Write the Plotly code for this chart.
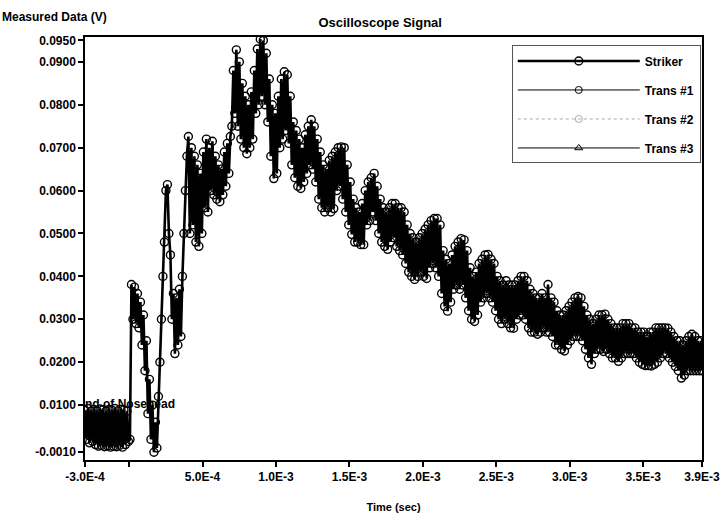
import plotly.graph_objects as go

# ---- data ----
SAMPLE_START_S = -3.0e-4      # first sample time (s)
SAMPLE_STEP_S = 1.02e-5       # oscilloscope sampling interval (s)

# pre-trigger samples (V)
pre_trigger_v = [0.0088, 0.0020, 0.0092, 0.0012, 0.0086, 0.0015, 0.0090, 0.0008, 0.0087, 0.0004,
                 0.0091, 0.0006, 0.0089, 0.0003, 0.0086, 0.0005, 0.0090, 0.0002, 0.0088, 0.0004,
                 0.0092, 0.0003, 0.0087, 0.0006, 0.0090, 0.0002, 0.0089, 0.0008, 0.0086, 0.0015]

# post-trigger samples (V)
signal_v = [
    0.0020, 0.0381, 0.030, 0.0375, 0.029, 0.036, 0.028, 0.034, 0.024, 0.031,
    0.018, 0.025, 0.008, 0.016, 0.002, 0.010, -0.0010, 0.006, 0.000, 0.012,
    0.020, 0.030, 0.040, 0.048, 0.060, 0.0614, 0.050, 0.045, 0.030, 0.036,
    0.022, 0.035, 0.024, 0.037, 0.026, 0.040, 0.050, 0.060, 0.068, 0.0726,
    0.050, 0.070, 0.052, 0.068, 0.048, 0.066, 0.047, 0.064, 0.050, 0.069,
    0.056, 0.072, 0.055, 0.070, 0.060, 0.0715, 0.059, 0.068, 0.058, 0.066,
    0.0574, 0.065, 0.059, 0.069, 0.061, 0.071, 0.064, 0.0726, 0.075, 0.088,
    0.078, 0.0928, 0.075, 0.090, 0.072, 0.085, 0.070, 0.082, 0.0686, 0.080,
    0.070, 0.083, 0.072, 0.088, 0.078, 0.093, 0.080, 0.0953, 0.082, 0.095,
    0.080, 0.092, 0.076, 0.086, 0.068, 0.080, 0.0628, 0.078, 0.064, 0.082,
    0.070, 0.086, 0.072, 0.0877, 0.074, 0.087, 0.071, 0.082, 0.066, 0.076,
    0.063, 0.074, 0.061, 0.072, 0.0605, 0.070, 0.062, 0.073, 0.064, 0.075,
    0.066, 0.0765, 0.065, 0.075, 0.062, 0.072, 0.058, 0.069, 0.056, 0.066,
    0.055, 0.065, 0.056, 0.067, 0.055, 0.068, 0.0558, 0.069, 0.060, 0.070,
    0.061, 0.0702, 0.058, 0.070, 0.055, 0.066, 0.052, 0.062, 0.0498, 0.058,
    0.048, 0.056, 0.048, 0.055, 0.0474, 0.057, 0.0474, 0.060, 0.052, 0.062,
    0.053, 0.063, 0.055, 0.064, 0.053, 0.061, 0.050, 0.058, 0.048, 0.056,
    0.047, 0.055, 0.0463, 0.056, 0.048, 0.057, 0.049, 0.057, 0.047, 0.056,
    0.046, 0.056, 0.045, 0.055, 0.043, 0.052, 0.041, 0.050, 0.040, 0.049,
    0.0393, 0.048, 0.040, 0.049, 0.041, 0.050, 0.040, 0.051, 0.0395, 0.052,
    0.042, 0.053, 0.043, 0.0535, 0.042, 0.0535, 0.040, 0.052, 0.036, 0.046,
    0.033, 0.044, 0.0319, 0.043, 0.034, 0.045, 0.037, 0.047, 0.038, 0.048,
    0.037, 0.0488, 0.038, 0.0485, 0.035, 0.046, 0.032, 0.042, 0.030, 0.040,
    0.0295, 0.041, 0.031, 0.043, 0.034, 0.044, 0.035, 0.045, 0.036, 0.0451,
    0.035, 0.044, 0.034, 0.043, 0.032, 0.040, 0.030, 0.039, 0.029, 0.038,
    0.030, 0.039, 0.029, 0.038, 0.028, 0.038, 0.0279, 0.038, 0.030, 0.039,
    0.031, 0.040, 0.031, 0.040, 0.030, 0.039, 0.028, 0.037, 0.027, 0.036,
    0.027, 0.035, 0.0265, 0.035, 0.027, 0.036, 0.028, 0.035, 0.027, 0.0381,
    0.027, 0.035, 0.026, 0.034, 0.024, 0.032, 0.024, 0.031, 0.023, 0.031,
    0.0226, 0.032, 0.024, 0.033, 0.025, 0.034, 0.026, 0.035, 0.026, 0.0353,
    0.026, 0.035, 0.025, 0.033, 0.023, 0.031, 0.021, 0.030, 0.0195, 0.029,
    0.022, 0.030, 0.023, 0.031, 0.023, 0.031, 0.0225, 0.0312, 0.023, 0.030,
    0.022, 0.029, 0.021, 0.028, 0.021, 0.028, 0.0202, 0.028, 0.021, 0.029,
    0.022, 0.029, 0.022, 0.029, 0.022, 0.028, 0.022, 0.028, 0.021, 0.027,
    0.020, 0.027, 0.0195, 0.027, 0.0192, 0.026, 0.0192, 0.027, 0.0191, 0.027,
    0.0195, 0.028, 0.020, 0.028, 0.021, 0.028, 0.022, 0.028, 0.022, 0.0279,
    0.021, 0.027, 0.020, 0.026, 0.019, 0.025, 0.018, 0.025, 0.0163, 0.024,
    0.017, 0.025, 0.018, 0.026, 0.018, 0.0265, 0.018, 0.026, 0.018, 0.025,
    0.018, 0.025, 0.018,
]

series_names = ["Striker", "Trans #1", "Trans #2", "Trans #3"]

x_tick_vals = [-3.0e-4, 0.0, 5.0e-4, 1.0e-3, 1.5e-3, 2.0e-3, 2.5e-3, 3.0e-3, 3.5e-3, 3.9e-3]
x_tick_text = ["-3.0E-4", "", "5.0E-4", "1.0E-3", "1.5E-3", "2.0E-3", "2.5E-3", "3.0E-3", "3.5E-3", "3.9E-3"]
y_tick_vals = [-0.001, 0.01, 0.02, 0.03, 0.04, 0.05, 0.06, 0.07, 0.08, 0.09, 0.095]
y_tick_text = ["-0.0010", "0.0100", "0.0200", "0.0300", "0.0400", "0.0500",
               "0.0600", "0.0700", "0.0800", "0.0900", "0.0950"]

note_text = "nd of Nosehead"

# ---- build ----
striker_v = pre_trigger_v + signal_v
time_s = [SAMPLE_START_S + i * SAMPLE_STEP_S for i in range(len(striker_v))]

FONT = "Liberation Sans, Arial, sans-serif"
fig = go.Figure()

# annotation text drawn beneath the data
fig.add_trace(go.Scatter(
    x=[x_tick_vals[0]], y=[0.0101], mode="text", text=[note_text],
    textposition="middle right", showlegend=False, hoverinfo="skip",
    textfont=dict(family=FONT, size=12, color="black", weight="bold"),
))

fig.add_trace(go.Scatter(
    x=time_s, y=striker_v, name=series_names[0], legendgroup="a",
    mode="lines+markers",
    line=dict(color="black", width=2.6),
    marker=dict(symbol="circle-open", size=8, color="black", line=dict(width=1.4)),
))
fig.add_trace(go.Scatter(
    x=[None], y=[None], name=series_names[1], legendgroup="b", mode="lines+markers",
    line=dict(color="black", width=1),
    marker=dict(symbol="circle-open", size=7, color="black"),
))
fig.add_trace(go.Scatter(
    x=[None], y=[None], name=series_names[2], legendgroup="c", mode="lines+markers",
    line=dict(color="#aaaaaa", width=1, dash="dot"),
    marker=dict(symbol="circle-open", size=7, color="#aaaaaa"),
))
fig.add_trace(go.Scatter(
    x=[None], y=[None], name=series_names[3], legendgroup="d", mode="lines+markers",
    line=dict(color="black", width=1),
    marker=dict(symbol="triangle-up-open", size=7, color="black"),
))

axis_common = dict(
    showgrid=False, zeroline=False, showline=True, linecolor="black", linewidth=1.5,
    mirror=True, ticks="outside", ticklen=5, tickcolor="black", tickwidth=1.5,
    ticklabeloverflow="allow", automargin=False,
    tickfont=dict(family=FONT, size=12, color="black", weight="bold"),
)

fig.update_layout(
    width=720, height=517,
    margin=dict(l=85, r=18, t=37, b=57),
    paper_bgcolor="white", plot_bgcolor="white",
    title=dict(text="Oscilloscope Signal", x=0.528, xanchor="center", y=0.957, yanchor="middle",
               font=dict(family=FONT, size=13, color="black", weight="bold")),
    xaxis=dict(range=[-3.0e-4, 3.9e-3], tickvals=x_tick_vals, ticktext=x_tick_text,
               title=dict(text="Time (sec)", standoff=20,
                          font=dict(family=FONT, size=11, color="black", weight="bold")),
               **axis_common),
    yaxis=dict(range=[-0.0028, 0.0958], tickvals=y_tick_vals, ticktext=y_tick_text,
               **axis_common),
    legend=dict(x=0.998, xanchor="right", y=0.98, yanchor="top",
                bgcolor="white", bordercolor="#555555", borderwidth=1,
                font=dict(family=FONT, size=12, color="black", weight="bold"),
                tracegroupgap=10, itemwidth=122),
    annotations=[dict(text="Measured Data (V)", xref="paper", yref="paper",
                      x=-0.138, y=1.047, xanchor="left", yanchor="middle", showarrow=False,
                      font=dict(family=FONT, size=12, color="black", weight="bold"))],
    showlegend=True,
)

fig.write_html("out.html", config={"displayModeBar": False},
               post_script="document.body.style.margin='0';")
